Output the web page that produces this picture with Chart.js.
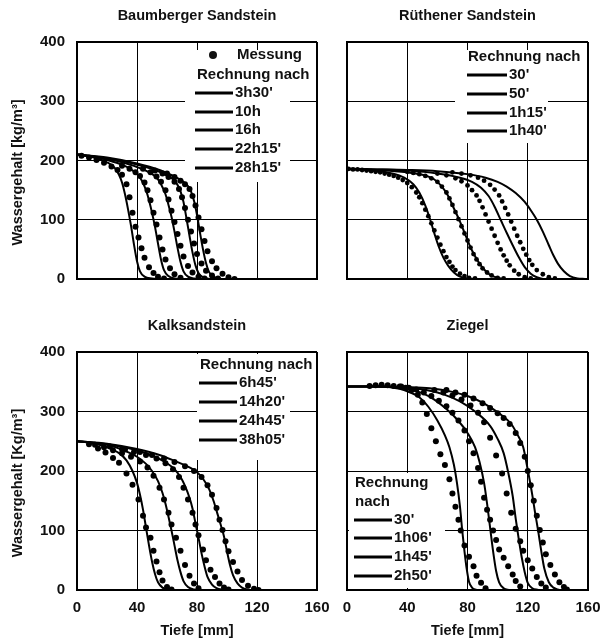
<!DOCTYPE html>
<html>
<head>
<meta charset="utf-8">
<script src="https://cdn.jsdelivr.net/npm/chart.js@4.4.0/dist/chart.umd.min.js"></script>
<style>
body { margin: 0; background: #fff; width: 601px; height: 643px; position: relative; overflow: hidden; }
canvas { position: absolute; }
</style>
</head>
<body>
<canvas id="baum" width="332" height="300" style="left:0px;top:0px"></canvas>
<canvas id="rueth" width="269" height="300" style="left:332px;top:0px"></canvas>
<canvas id="kalk" width="332" height="343" style="left:0px;top:300px"></canvas>
<canvas id="ziegel" width="269" height="343" style="left:332px;top:300px"></canvas>
<script>
// Tiefe [mm], Wassergehalt [kg/m3] pairs

// Baumberger Sandstein
var baumLabels = ["3h30'", "10h", "16h", "22h15'", "28h15'"];
var baumCalc1 = [[0,210],[10,206],[20,197],[25,188],[28,176],[30,163],[32,143],[34,118],[36,90],[38,58],[40,30],[42,13],[45,4],[50,1],[55,0]];
var baumCalc2 = [[0,210],[10,207],[20,201],[30,193],[36,185],[40,177],[43,167],[46,150],[48,133],[50,112],[52,88],[54,60],[56,33],[58,15],[61,5],[65,1],[70,0]];
var baumCalc3 = [[0,210],[10,207],[20,203],[30,197],[40,189],[48,180],[53,171],[56,160],[59,143],[61,125],[63,105],[65,80],[67,53],[69,29],[71,13],[74,4],[78,1],[82,0]];
var baumCalc4 = [[0,210],[20,204],[40,193],[55,181],[62,172],[66,163],[69,148],[71,130],[73,102],[75,73],[77,45],[79,23],[81,10],[84,3],[88,0]];
var baumCalc5 = [[0,210],[20,205],[40,195],[55,184],[65,173],[70,166],[74,157],[76,148],[78,132],[80,108],[82,78],[84,50],[86,27],[88,12],[91,4],[95,0]];
var baumMess1 = [[3,208],[8,205],[13,201],[18,196],[23,190],[27,184],[30,176],[33,160],[35,138],[37,112],[39,88],[41,70],[43,52],[45,36],[48,20],[51,10],[54,4],[58,1]];
var baumMess2 = [[30,191],[35,186],[39,180],[42,174],[45,163],[47,150],[49,133],[51,112],[53,92],[55,70],[57,50],[59,33],[62,18],[65,8],[69,2]];
var baumMess3 = [[44,186],[49,180],[53,173],[56,164],[59,150],[61,134],[63,115],[65,96],[67,76],[69,56],[71,38],[74,22],[77,11],[81,4],[85,1]];
var baumMess4 = [[52,183],[57,178],[61,172],[65,164],[68,152],[70,138],[72,120],[74,100],[76,80],[78,60],[80,42],[83,26],[86,14],[90,6],[94,1]];
var baumMess5 = [[60,178],[65,172],[69,166],[72,160],[75,152],[77,140],[79,124],[81,104],[83,84],[85,64],[87,47],[90,30],[93,18],[97,9],[101,3],[105,0]];

// Rüthener Sandstein
var ruethLabels = ["30'", "50'", "1h15'", "1h40'"];
var ruethCalc1 = [[0,185],[10,184],[20,182],[30,178],[38,171],[44,160],[48,146],[52,124],[55,102],[58,77],[61,54],[64,36],[67,23],[71,11],[75,4],[80,1],[85,0]];
var ruethCalc2 = [[0,186],[20,184],[40,180],[50,176],[58,168],[63,156],[67,141],[71,119],[75,97],[79,72],[83,48],[87,30],[91,16],[95,7],[100,2],[105,0]];
var ruethCalc3 = [[0,186],[20,185],[40,183],[60,178],[75,171],[83,164],[89,154],[94,140],[98,122],[102,100],[106,78],[110,57],[114,37],[118,20],[122,9],[126,3],[130,0]];
var ruethCalc4 = [[0,186],[20,185],[40,184],[60,182],[80,177],[92,171],[100,164],[106,156],[112,145],[118,130],[122,116],[126,100],[130,80],[134,57],[137,40],[140,26],[144,13],[148,5],[153,1],[158,0]];
var ruethMess1 = [[1,186],[4,185],[7,185],[10,184],[13,183],[16,182],[19,181],[22,180],[25,178],[28,176],[31,174],[34,171],[37,167],[40,162],[43,155],[46,146],[48,138],[50,128],[52,117],[54,106],[56,94],[58,82],[60,70],[62,58],[64,47],[66,37],[68,29],[70,21],[72,15],[75,9],[78,5],[81,2],[85,1]];
var ruethMess2 = [[40,181],[44,179],[48,177],[52,174],[56,170],[60,164],[63,156],[66,146],[68,136],[70,125],[72,113],[74,101],[76,89],[78,77],[80,65],[82,53],[84,42],[86,33],[88,25],[90,18],[93,11],[96,6],[100,2],[104,1]];
var ruethMess3 = [[60,178],[66,175],[72,170],[76,165],[80,158],[83,150],[86,141],[88,132],[90,121],[92,109],[94,97],[96,85],[98,73],[100,61],[102,50],[104,40],[106,31],[108,23],[111,14],[114,8],[118,3],[122,1]];
var ruethMess4 = [[70,180],[76,178],[82,175],[87,171],[91,166],[95,159],[98,151],[101,141],[103,131],[105,120],[107,109],[109,97],[111,85],[113,73],[115,62],[117,51],[119,41],[121,32],[123,24],[126,15],[130,8],[134,3],[138,1]];

// Kalksandstein
var kalkLabels = ["6h45'", "14h20'", "24h45'", "38h05'"];
var kalkCalc1 = [[0,250],[10,247],[20,240],[28,230],[33,218],[37,200],[40,180],[42,160],[44,135],[46,105],[48,75],[50,48],[52,27],[54,13],[57,4],[60,1],[65,0]];
var kalkCalc2 = [[0,250],[10,248],[20,244],[30,236],[40,224],[46,212],[50,200],[54,183],[57,163],[59,145],[61,123],[63,100],[65,75],[67,50],[69,30],[71,15],[74,5],[78,1],[82,0]];
var kalkCalc3 = [[0,250],[20,245],[40,235],[52,224],[60,213],[65,203],[69,190],[72,175],[75,155],[77,137],[79,112],[81,88],[83,62],[85,40],[87,22],[90,9],[93,3],[98,0]];
var kalkCalc4 = [[0,250],[20,246],[40,237],[55,227],[65,217],[75,206],[80,198],[84,187],[88,170],[91,150],[94,125],[96,108],[98,90],[100,65],[102,42],[104,25],[107,11],[110,4],[115,0]];
var kalkMess1 = [[8,245],[14,238],[19,231],[24,222],[28,214],[33,196],[37,177],[41,152],[44,125],[46,105],[49,88],[51,66],[53,48],[55,30],[57,16],[60,5],[63,1]];
var kalkMess2 = [[12,244],[18,240],[24,235],[30,230],[36,224],[42,216],[47,206],[51,192],[55,172],[58,152],[61,130],[63,110],[66,88],[69,66],[72,42],[75,24],[78,11],[81,3]];
var kalkMess3 = [[22,241],[30,237],[38,232],[46,227],[53,221],[59,213],[64,203],[68,190],[71,172],[74,152],[77,130],[79,110],[81,92],[84,68],[86,50],[89,34],[92,22],[95,11],[98,4],[101,1]];
var kalkMess4 = [[32,236],[42,232],[50,227],[58,221],[65,215],[72,208],[78,200],[83,190],[87,176],[90,160],[93,138],[95,118],[97,101],[99,82],[101,65],[104,47],[107,31],[110,17],[114,7],[118,2],[121,0]];

// Ziegel
var ziegelLabels = ["30'", "1h06'", "1h45'", "2h50'"];
var ziegelCalc1 = [[0,342],[20,342],[35,338],[42,332],[48,324],[54,308],[60,285],[65,260],[68,240],[71,210],[73,180],[75,140],[76.5,100],[78,65],[79.5,35],[81,14],[83,4],[86,0]];
var ziegelCalc2 = [[0,342],[20,342],[40,338],[50,331],[58,320],[66,304],[74,284],[80,264],[85,240],[88,215],[91,180],[93,145],[95,105],[97,65],[99,32],[101,13],[104,3],[108,0]];
var ziegelCalc3 = [[0,342],[20,342],[40,340],[55,335],[65,328],[75,317],[85,300],[95,276],[100,254],[104,230],[107,198],[110,158],[112,120],[114,86],[116,55],[118,30],[120,12],[123,3],[127,0]];
var ziegelCalc4 = [[0,342],[20,342],[40,341],[55,339],[70,333],[80,326],[90,315],[97,304],[104,291],[109,279],[113,262],[117,240],[120,202],[123,160],[125,128],[127,98],[129,65],[131,36],[134,13],[137,4],[141,0]];
var ziegelMess1 = [[15,343],[19,344],[23,345],[27,344],[31,343],[35,342],[39,340],[43,336],[47,328],[50,315],[53,296],[56,272],[59,250],[62,228],[65,210],[68,186],[70,162],[72,140],[74,118],[75.5,100],[78,75],[81,56],[84,40],[86,24],[89,12],[92,3]];
var ziegelMess2 = [[36,342],[41,340],[46,337],[51,332],[56,326],[61,318],[66,309],[70,298],[74,285],[78,268],[81,250],[84,230],[87,205],[89,182],[91,155],[93,135],[95,118],[97,100],[99,84],[101,68],[104,54],[107,40],[110,26],[112,15],[115,6]];
var ziegelMess3 = [[58,336],[64,332],[70,327],[76,320],[82,310],[87,298],[91,282],[95,256],[99,226],[103,196],[106,162],[109,130],[112,103],[115,82],[117,66],[120,50],[123,36],[126,22],[129,11],[132,4]];
var ziegelMess4 = [[66,336],[72,332],[78,328],[84,322],[90,314],[95,306],[100,297],[104,289],[108,279],[112,264],[115,247],[118,224],[120,200],[122,176],[124,150],[126,125],[128,101],[130,80],[132,60],[135,42],[138,26],[141,13],[144,5],[146,1]];

var xTicks = [0, 40, 80, 120, 160];
var yTicks = [0, 100, 200, 300, 400];

Chart.defaults.font.family = '"Liberation Sans", Arial, Helvetica, sans-serif';
Chart.defaults.font.size = 15;
Chart.defaults.font.weight = 'bold';
Chart.defaults.color = '#111';
Chart.defaults.animation = false;

var FONT = '"Liberation Sans", Arial, sans-serif';

function xy(arr) {
    return arr.map(function (p) { return {x: p[0], y: p[1]}; });
}

function calcSet(arr) {
    return {data: xy(arr), showLine: true, borderColor: '#000', borderWidth: 2,
        pointRadius: 0, pointHoverRadius: 0, cubicInterpolationMode: 'monotone', fill: false};
}

function messSet(arr, r) {
    return {data: xy(arr), showLine: false, pointRadius: r, pointHoverRadius: r,
        pointBackgroundColor: '#000', pointBorderWidth: 0};
}

function edgeWidth(ctx, max) {
    if (!ctx.tick) return 1;
    return (ctx.tick.value === 0 || ctx.tick.value === max) ? 2 : 1;
}

function makeScales(showX, showY) {
    return {
        x: {
            type: 'linear', min: xTicks[0], max: xTicks[xTicks.length - 1],
            afterBuildTicks: function (s) { s.ticks = xTicks.map(function (v) { return {value: v}; }); },
            ticks: {display: showX, padding: 9, maxRotation: 0},
            grid: {color: '#000', lineWidth: function (c) { return edgeWidth(c, 160); }, drawTicks: false},
            border: {display: true, color: '#000', width: 2},
            title: {display: showX, text: 'Tiefe [mm]', padding: {top: 0, bottom: 3},
                font: {size: 14.5, weight: 'bold'}},
            afterFit: function (s) {
                s.height = showX ? 53 : 0;
                // labels may hang over the layout padding, keep the plot box fixed
                s.paddingLeft = 0;
                s.paddingRight = 0;
            }
        },
        y: {
            type: 'linear', min: yTicks[0], max: yTicks[yTicks.length - 1],
            afterBuildTicks: function (s) { s.ticks = yTicks.map(function (v) { return {value: v}; }); },
            ticks: {display: showY, padding: 12},
            grid: {color: '#000', lineWidth: function (c) { return edgeWidth(c, 400); }, drawTicks: false},
            border: {display: true, color: '#000', width: 2},
            afterFit: function (s) {
                s.width = showY ? 77 : 0;
                s.paddingTop = 0;
                s.paddingBottom = 0;
            }
        }
    };
}

var panelText = {
    id: 'panelText',
    beforeDatasetsDraw: function (chart, args, o) {
        if (!o.box) return;
        var c = chart.ctx, b = o.box;
        c.save();
        c.fillStyle = '#fff';
        c.fillRect(b[0], b[1], b[2] - b[0], b[3] - b[1]);
        c.restore();
    },
    afterDraw: function (chart, args, o) {
        var c = chart.ctx, a = chart.chartArea;
        c.save();
        c.fillStyle = '#111';
        c.strokeStyle = '#000';
        c.textBaseline = 'middle';
        c.textAlign = 'center';
        c.font = 'bold 14.5px ' + FONT;
        c.fillText(o.title, (a.left + a.right) / 2, a.top - 26);
        if (o.yTitle) {
            c.save();
            c.translate(18, (a.top + a.bottom) / 2 + 12);
            c.rotate(-Math.PI / 2);
            c.fillText(o.yTitle, 0, 0);
            c.restore();
        }
        c.font = 'bold 15px ' + FONT;
        c.textAlign = 'left';
        (o.rows || []).forEach(function (r) {
            if (r.dot) {
                c.beginPath();
                c.arc(r.dot, r.y, 4, 0, 2 * Math.PI);
                c.fill();
            }
            if (r.x1 !== undefined) {
                c.lineWidth = 3;
                c.beginPath();
                c.moveTo(r.x1, r.y);
                c.lineTo(r.x2, r.y);
                c.stroke();
            }
            c.fillText(r.text, r.tx, r.y);
        });
        c.restore();
    }
};

function lineRows(labels, x1, x2, ys) {
    return labels.map(function (l, i) { return {x1: x1, x2: x2, y: ys[i], tx: x2 + 2, text: l}; });
}

function makeChart(id, calc, mess, r, showX, showY, padding, text) {
    var sets = [];
    mess.forEach(function (m) { sets.push(messSet(m, r)); });
    calc.forEach(function (m) { sets.push(calcSet(m)); });
    return new Chart(document.getElementById(id), {
        type: 'scatter',
        data: {datasets: sets},
        options: {
            responsive: false,
            animation: false,
            layout: {padding: padding},
            scales: makeScales(showX, showY),
            plugins: {legend: {display: false}, tooltip: {enabled: false}, title: {display: false}, panelText: text}
        },
        plugins: [panelText]
    });
}

makeChart('baum',
    [baumCalc1, baumCalc2, baumCalc3, baumCalc4, baumCalc5],
    [baumMess1, baumMess2, baumMess3, baumMess4, baumMess5], 3, false, true,
    {top: 42, right: 15, bottom: 21, left: 0},
    {title: 'Baumberger Sandstein', yTitle: 'Wassergehalt [kg/m³]', box: [185, 50, 290, 182],
     rows: [{dot: 213, y: 55, tx: 237, text: 'Messung'}, {y: 75, tx: 197, text: 'Rechnung nach'}]
        .concat(lineRows(baumLabels, 195, 233, [93, 112, 130, 149, 168]))});

makeChart('rueth',
    [ruethCalc1, ruethCalc2, ruethCalc3, ruethCalc4],
    [ruethMess1, ruethMess2, ruethMess3, ruethMess4], 2.4, false, false,
    {top: 42, right: 13, bottom: 21, left: 15},
    {title: 'Rüthener Sandstein', box: [123, 50, 216, 143],
     rows: [{y: 57, tx: 136, text: 'Rechnung nach'}]
        .concat(lineRows(ruethLabels, 135, 175, [75, 94, 113, 131]))});

makeChart('kalk',
    [kalkCalc1, kalkCalc2, kalkCalc3, kalkCalc4],
    [kalkMess1, kalkMess2, kalkMess3, kalkMess4], 3, true, true,
    {top: 52, right: 15, bottom: 0, left: 0},
    {title: 'Kalksandstein', yTitle: 'Wassergehalt [Kg/m³]', box: [197, 54, 290, 160],
     rows: [{y: 65, tx: 200, text: 'Rechnung nach'}]
        .concat(lineRows(kalkLabels, 199, 237, [83, 102, 121, 140]))});

makeChart('ziegel',
    [ziegelCalc1, ziegelCalc2, ziegelCalc3, ziegelCalc4],
    [ziegelMess1, ziegelMess2, ziegelMess3, ziegelMess4], 3, true, false,
    {top: 52, right: 13, bottom: 0, left: 15},
    {title: 'Ziegel', box: [17, 173, 113, 288],
     rows: [{y: 183, tx: 23, text: 'Rechnung'}, {y: 202, tx: 23, text: 'nach'}]
        .concat(lineRows(ziegelLabels, 22, 60, [220, 238, 257, 276]))});
</script>
</body>
</html>
